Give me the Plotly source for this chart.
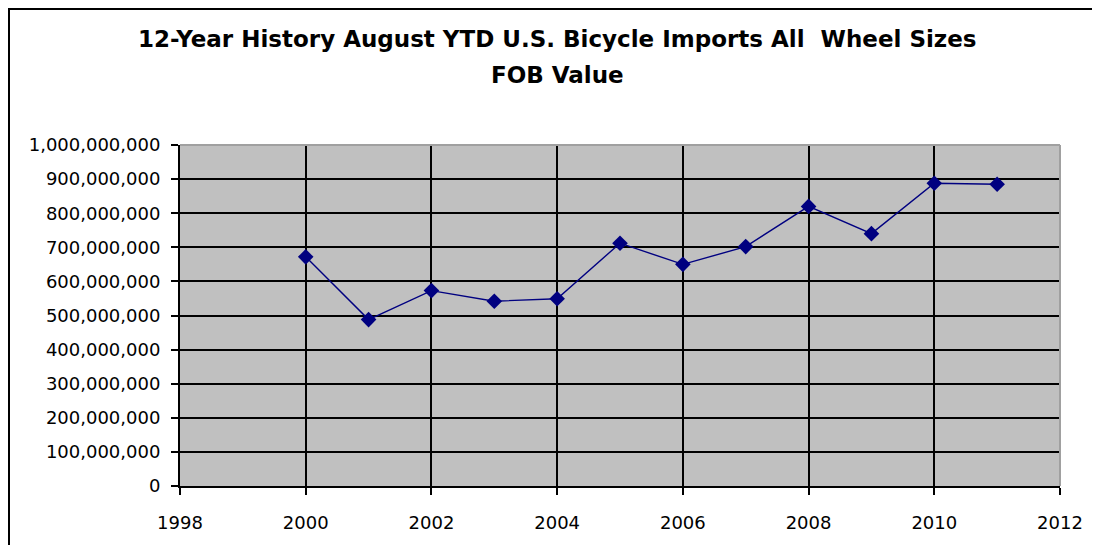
import plotly.graph_objects as go

years = [2000, 2001, 2002, 2003, 2004, 2005, 2006, 2007, 2008, 2009, 2010, 2011]
fob_value = [672e6, 488e6, 573e6, 542e6, 549e6, 712e6, 650e6, 702e6, 820e6, 740e6, 888e6, 885e6]

x_ticks = [1998, 2000, 2002, 2004, 2006, 2008, 2010, 2012]
y_ticks = [i * 100_000_000 for i in range(11)]
title_lines = ["12-Year History August YTD U.S. Bicycle Imports All  Wheel Sizes", "FOB Value"]

W, H = 1092, 537
L, R, T, B = 172, 40, 137, 59
pw, ph = W - L - R, H - T - B

fig = go.Figure()
fig.add_trace(go.Scatter(
    x=years, y=fob_value, mode="lines+markers",
    line=dict(color="#000080", width=1.4),
    marker=dict(symbol="diamond", size=12, color="#000080"),
    showlegend=False,
))

font = "DejaVu Sans, sans-serif"
title_centers = [31, 67]  # figure-pixel y of each title line
annotations = [
    dict(text=f"<b>{t}</b>", xref="paper", yref="paper",
         x=(557 - 8 - L) / pw, y=1 + (T - cy) / ph,
         xanchor="center", yanchor="middle", showarrow=False,
         font=dict(family=font, size=23, color="black"))
    for t, cy in zip(title_lines, title_centers)
]

fig.update_layout(
    width=W, height=H,
    margin=dict(l=L, r=R, t=T, b=B),
    paper_bgcolor="white", plot_bgcolor="#C0C0C0",
    annotations=annotations,
    xaxis=dict(
        range=[1998, 2012], tickvals=x_ticks, ticktext=[str(t) for t in x_ticks],
        showgrid=True, gridcolor="black", gridwidth=2,
        showline=True, linecolor="black", linewidth=2,
        ticks="outside", ticklen=7, tickcolor="black", tickwidth=2,
        tickfont=dict(family=font, size=18, color="black"),
        ticklabelstandoff=12,
        zeroline=False,
    ),
    yaxis=dict(
        range=[0, 1e9], tickvals=y_ticks, tickformat=",d",
        showgrid=True, gridcolor="black", gridwidth=2,
        showline=True, linecolor="black", linewidth=2,
        ticks="outside", ticklen=7, tickcolor="black", tickwidth=2,
        tickfont=dict(family=font, size=18, color="black"),
        ticklabelstandoff=7,
        zeroline=False,
    ),
    shapes=[
        dict(type="line", xref="paper", yref="paper", x0=0, x1=1, y0=1, y1=1,
             line=dict(color="#A0A0A0", width=2), layer="above"),
        dict(type="line", xref="paper", yref="paper", x0=1, x1=1, y0=0, y1=1,
             line=dict(color="#A0A0A0", width=2), layer="above"),
        dict(type="line", xref="paper", yref="paper", x0=-(L - 1) / pw, x1=-(L - 1) / pw,
             y0=-B / ph, y1=1 + (T - 1) / ph, line=dict(color="black", width=2)),
        dict(type="line", xref="paper", yref="paper", x0=-L / pw, x1=1 + R / pw,
             y0=1 + (T - 1) / ph, y1=1 + (T - 1) / ph, line=dict(color="black", width=2)),
    ],
)

fig.write_html("out.html")
